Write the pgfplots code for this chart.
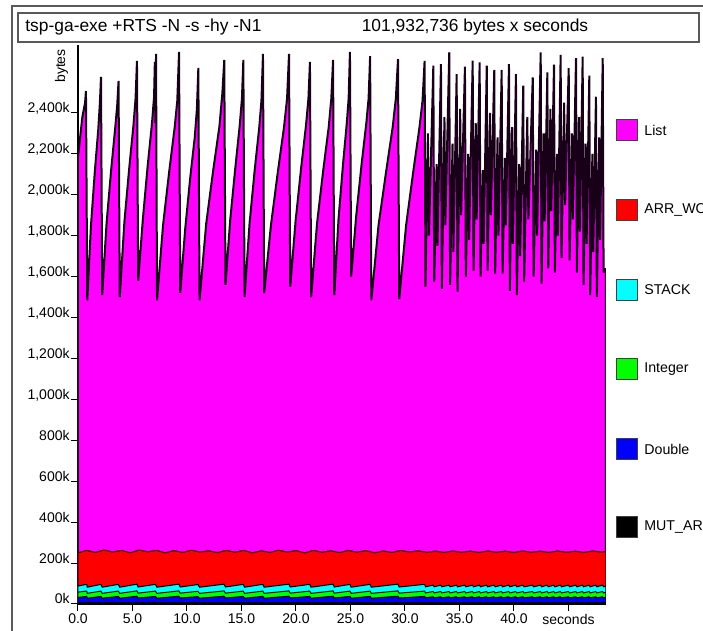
\documentclass[border=0pt]{standalone}
\usepackage{fontspec}
\setmainfont{Liberation Sans}
\usepackage{pgfplots}
\pgfplotsset{compat=1.18}
\usepackage{pgfplotstable}
\definecolor{hpList}{RGB}{255,0,255}
\definecolor{hpArr}{RGB}{255,0,0}
\definecolor{hpStack}{RGB}{0,255,255}
\definecolor{hpInt}{RGB}{0,255,0}
\definecolor{hpDbl}{RGB}{0,0,255}
\definecolor{hpMut}{RGB}{0,0,0}
\definecolor{hpEdge}{RGB}{25,0,25}

\pgfplotstableread{
t v
0 2185
0.40 2380
0.65 2450
0.73 2507
0.85 1484
1.19 1850
1.54 2110
1.86 2320
2.01 2450
2.11 2576
2.22 1510
2.62 1860
3.04 2120
3.42 2330
3.60 2440
3.72 2556
3.83 1500
4.26 1870
4.70 2130
5.09 2340
5.28 2470
5.41 2654
5.52 1580
5.95 1880
6.39 2140
6.79 2350
6.98 2480
7.05 2650
7.10 2350
7.16 2688
7.25 1484
7.80 1850
8.36 2110
8.87 2330
9.11 2460
9.27 2698
9.38 1520
9.83 1830
10.29 2080
10.71 2280
10.91 2420
11.04 2620
11.15 1484
11.76 1858
12.40 2118
12.97 2332
13.24 2493
13.42 2659
13.53 1560
13.97 1880
14.43 2130
14.84 2340
15.04 2470
15.17 2659
15.28 1500
15.74 1860
16.21 2120
16.63 2330
16.83 2460
16.97 2688
17.08 1520
17.70 1850
18.33 2110
18.90 2330
19.18 2470
19.36 2688
19.47 1551
19.96 1870
20.47 2130
20.92 2340
21.14 2470
21.28 2649
21.39 1500
21.93 1860
22.50 2120
23.00 2330
23.24 2470
23.40 2659
23.51 1510
23.90 1880
24.30 2140
24.66 2350
24.83 2470
24.95 2698
25.06 1600
25.53 1900
26.02 2150
26.45 2350
26.66 2470
26.80 2678
26.91 1484
27.57 1850
28.26 2110
28.87 2330
29.16 2470
29.36 2663
29.47 1490
30.10 1850
30.75 2110
31.33 2330
31.61 2460
31.80 2654
31.88 1551
32.10 2300
32.20 1800
32.60 2631
32.68 1576
32.90 2150
32.98 1750
33.30 2639
33.38 1540
33.62 2380
33.70 1850
34.06 2696
34.14 1560
34.36 2250
34.44 1720
34.74 2590
34.82 1527
35.06 2420
35.15 1900
35.50 2626
35.58 1600
35.80 2200
35.88 1780
36.21 2655
36.29 1629
36.49 2350
36.57 1880
36.85 2647
36.93 1600
37.14 2120
37.22 1760
37.50 2631
37.58 1629
37.80 2400
37.88 1900
38.19 2610
38.27 1615
38.49 2280
38.57 1800
38.87 2610
38.95 1615
39.17 2180
39.25 1850
39.54 2639
39.62 1530
39.82 2330
39.90 1760
40.18 2590
40.26 1510
40.48 2150
40.56 1700
40.85 2533
40.93 1576
41.22 2380
41.32 1880
41.72 2574
41.80 1600
42.04 2220
42.12 1800
42.45 2696
42.53 1566
42.73 2300
42.81 1870
43.06 2598
43.14 1640
43.34 2420
43.42 1920
43.67 2636
43.75 1620
43.95 2200
44.03 1800
44.28 2684
44.36 1690
44.60 2450
44.69 1950
45.02 2619
45.10 1680
45.32 2300
45.40 1880
45.69 2668
45.77 1620
45.97 2380
46.05 1820
46.30 2675
46.38 1560
46.58 2250
46.66 1760
46.91 2582
46.99 1510
47.19 2200
47.27 1720
47.52 2479
47.60 1500
47.82 2280
47.90 1780
48.14 2668
48.22 1620
48.44 1640
}\listtop

\pgfplotstableread{
t a
0 250
0.8 262
1.6 252
2.4 264
3.2 254
4.0 262
4.8 250
5.6 264
6.4 255
7.2 262
8.0 250
8.8 261
9.6 252
10.4 263
11.2 254
12.0 260
12.8 251
13.6 262
14.4 253
15.2 262
16.0 250
16.8 260
17.6 252
18.4 263
19.2 254
20.0 261
20.8 250
21.6 262
22.4 253
23.2 260
24.0 251
24.8 262
25.6 253
26.4 261
27.2 250
28.0 259
28.8 252
29.6 262
30.4 254
31.2 260
32.0 253
32.8 258
33.6 252
34.4 259
35.2 253
36.0 258
36.8 252
37.6 259
38.4 253
39.2 258
40.0 252
40.8 259
41.6 253
42.4 258
43.2 252
44.0 259
44.8 253
45.6 258
46.4 252
47.2 259
48.0 254
48.44 256
}\arrtop

\pgfplotstableread{
t st in db mu
0 88 58 32 7
0.80 96 63 37 8
0.85 82 52 28 6
2.10 96 63 37 8
2.22 82 52 28 6
3.70 96 63 37 8
3.83 82 52 28 6
5.40 97 64 38 8
5.52 83 53 29 6
7.10 96 63 37 8
7.25 82 52 28 6
9.25 97 64 38 8
9.38 83 53 29 6
11.00 95 62 36 8
11.15 82 52 28 6
13.40 97 64 38 8
13.53 83 53 29 6
15.15 96 63 37 8
15.28 82 52 28 6
16.95 96 63 37 8
17.08 82 52 28 6
19.35 97 64 38 8
19.47 83 53 29 6
21.25 96 63 37 8
21.39 82 52 28 6
23.40 97 64 38 8
23.51 83 53 29 6
24.95 96 63 37 8
25.06 82 52 28 6
26.80 96 63 37 8
26.91 82 52 28 6
29.35 97 64 38 8
29.47 83 53 29 6
31.80 96 63 37 8
31.88 84 54 30 6
32.58 92 61 35 8
32.68 84 54 30 6
33.28 92 61 35 8
33.38 84 54 30 6
34.04 92 61 35 8
34.14 84 54 30 6
34.72 92 61 35 8
34.82 84 54 30 6
35.48 92 61 35 8
35.58 84 54 30 6
36.19 92 61 35 8
36.29 84 54 30 6
36.83 92 61 35 8
36.93 84 54 30 6
37.48 92 61 35 8
37.58 84 54 30 6
38.17 92 61 35 8
38.27 84 54 30 6
38.85 92 61 35 8
38.95 84 54 30 6
39.52 92 61 35 8
39.62 84 54 30 6
40.16 92 61 35 8
40.26 84 54 30 6
40.83 92 61 35 8
40.93 84 54 30 6
41.70 92 61 35 8
41.80 84 54 30 6
42.43 92 61 35 8
42.53 84 54 30 6
43.04 92 61 35 8
43.14 84 54 30 6
43.65 92 61 35 8
43.75 84 54 30 6
44.26 92 61 35 8
44.36 84 54 30 6
45.00 92 61 35 8
45.10 84 54 30 6
45.67 92 61 35 8
45.77 84 54 30 6
46.28 92 61 35 8
46.38 84 54 30 6
46.89 92 61 35 8
46.99 84 54 30 6
47.50 92 61 35 8
47.60 84 54 30 6
48.12 92 61 35 8
48.22 84 54 30 6
48.44 88 58 32 7
}\lowtop

\begin{document}
\begin{tikzpicture}[x=0.5pt,y=0.5pt]
\useasboundingbox (0,0) rectangle (703,631);
\clip (0,0) rectangle (703,631);
% outer frame
\draw[black!65, line width=0.8pt] (12,-10) -- (12,625) -- (720,625);
% title box
\draw[black!65, line width=0.8pt] (18,618) rectangle (699,589);
\node[anchor=west, inner sep=0pt, font=\fontsize{8.7}{10}\selectfont] at (25,603.5) {tsp-ga-exe +RTS -N -s -hy -N1};
\node[anchor=center, inner sep=0pt, font=\fontsize{8.7}{10}\selectfont] at (475,603.5) {101,932,736 bytes x seconds};
% bytes label
\node[rotate=90, anchor=south, inner sep=0pt, font=\fontsize{7}{8}\selectfont] at (68.5,565) {bytes};
\begin{axis}[
  at={(39pt,13.5pt)}, anchor=south west,
  scale only axis, width=264pt, height=279.5pt,
  xmin=0, xmax=48.44, ymin=0, ymax=2732,
  axis x line*=bottom, axis y line*=left,
  axis line style={-, line width=0.6pt, black},
  xtick={0,5,10,15,20,25,30,35,40,45},
  xticklabels={0.0,5.0,10.0,15.0,20.0,25.0,30.0,35.0,40.0,seconds},
  ytick={0,200,400,600,800,1000,1200,1400,1600,1800,2000,2200,2400},
  yticklabels={0k,200k,400k,600k,800k,{1,000k},{1,200k},{1,400k},{1,600k},{1,800k},{2,000k},{2,200k},{2,400k}},
  tick align=outside, major tick length=3.5pt,
  tick style={line width=0.5pt, black},
  xticklabel style={font=\fontsize{7}{8}\selectfont, anchor=north, inner sep=1pt, yshift=-0.3pt},
  yticklabel style={font=\fontsize{7}{8}\selectfont, anchor=base east, inner sep=0.5pt},
  /pgf/number format/assume math mode=true,
  clip=true,
]
\addplot[fill=hpList, draw=hpEdge, line width=1.0pt, line join=miter, miter limit=3] table[x=t,y=v]{\listtop} \closedcycle;
\addplot[fill=hpArr, draw=black!75!red, line width=0.6pt] table[x=t,y=a]{\arrtop} \closedcycle;
\addplot[fill=hpStack, draw=black, line width=0.5pt] table[x=t,y=st]{\lowtop} \closedcycle;
\addplot[fill=hpInt, draw=black, line width=0.5pt] table[x=t,y=in]{\lowtop} \closedcycle;
\addplot[fill=hpDbl, draw=black, line width=0.5pt] table[x=t,y=db]{\lowtop} \closedcycle;
\addplot[fill=hpMut, draw=black, line width=0.5pt] table[x=t,y=mu]{\lowtop} \closedcycle;
\end{axis}
% legend
\foreach \c/\yy/\lab in {hpList/501/List, hpArr/421/ARR\_WORDS, hpStack/341/STACK, hpInt/262/Integer, hpDbl/182/Double, hpMut/104/MUT\_ARR\_PTRS\_CLEAN}{
  \draw[fill=\c, draw=black!75, line width=0.5pt] (616,\yy-10.5) rectangle (637,\yy+10.5);
  \node[anchor=west, inner sep=0pt, font=\fontsize{7.1}{8}\selectfont] at (644,\yy) {\lab};
}
\end{tikzpicture}
\end{document}
